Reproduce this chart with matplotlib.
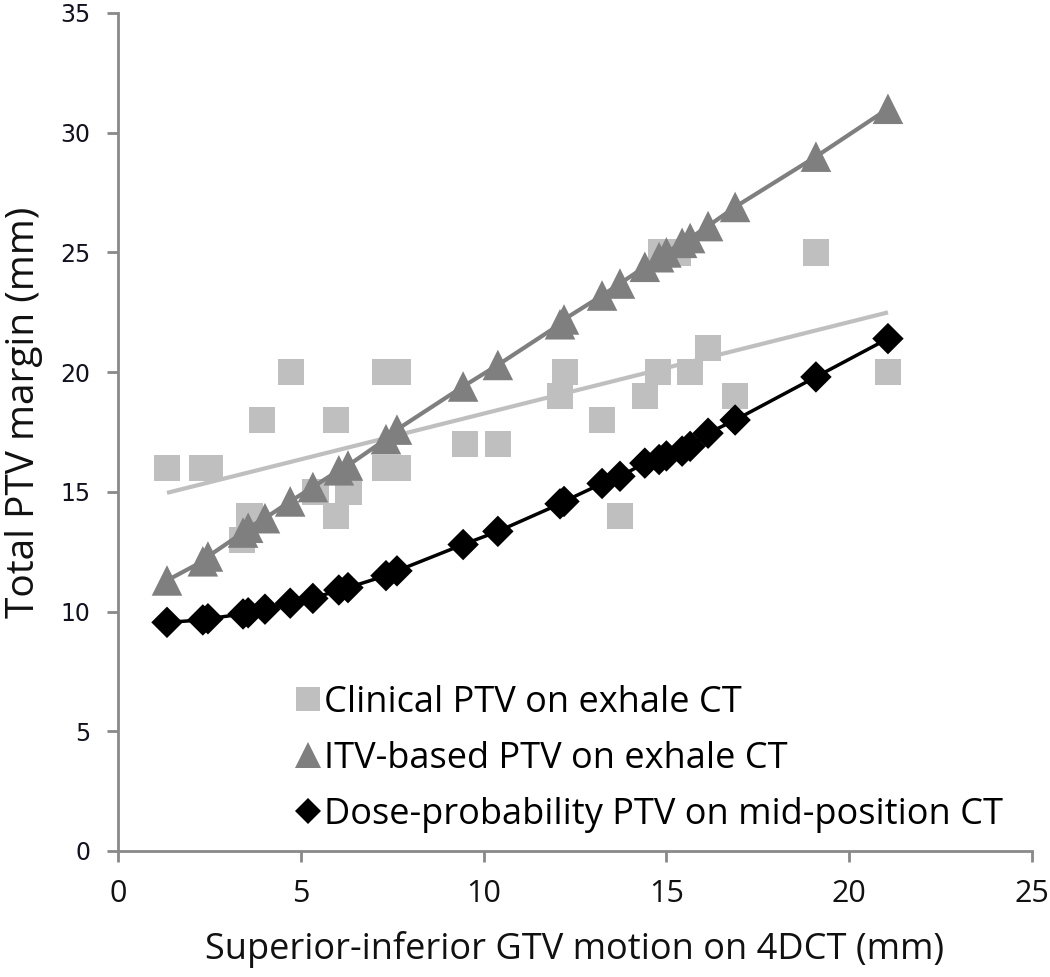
import numpy as np
import matplotlib
matplotlib.use("Agg")
import matplotlib.pyplot as plt
from matplotlib.lines import Line2D

# ---- data ----
clin_x = [1.34, 2.3, 2.5, 3.4, 3.6, 3.94, 4.73, 5.4, 5.96, 5.96, 6.3, 7.3, 7.65, 7.3, 7.65,
          9.49, 10.39, 12.09, 12.23, 13.24, 13.73, 14.41, 14.77, 14.85, 15.3, 15.65, 16.14,
          16.88, 19.09, 21.06]
clin_y = [16, 16, 16, 13, 14, 18, 20, 15, 18, 14, 15, 20, 20, 16, 16,
          17, 17, 19, 20, 18, 14, 19, 20, 25, 25, 20, 21,
          19, 25, 20]

motion_x = [1.34, 2.32, 2.46, 3.42, 3.56, 4.02, 4.71, 5.33, 6.04, 6.29, 7.33, 7.63, 9.44,
            10.39, 12.09, 12.2, 13.24, 13.73, 14.41, 14.8, 15.0, 15.43, 15.65, 16.14, 16.88,
            19.09, 21.06]
itv_y = [11.3, 12.1, 12.3, 13.3, 13.5, 13.9, 14.6, 15.2, 15.9, 16.1, 17.2, 17.6, 19.4,
         20.3, 22.0, 22.2, 23.2, 23.7, 24.4, 24.8, 25.0, 25.4, 25.6, 26.1, 26.9,
         29.0, 31.0]
dose_y = [9.55, 9.65, 9.7, 9.9, 9.95, 10.1, 10.35, 10.55, 10.9, 11.0, 11.5, 11.7, 12.8,
          13.35, 14.5, 14.6, 15.35, 15.65, 16.2, 16.35, 16.5, 16.7, 16.9, 17.45, 18.0,
          19.8, 21.4]

labels = ["Clinical PTV on exhale CT",
          "ITV-based PTV on exhale CT",
          "Dose-probability PTV on mid-position CT"]
xticks = [0, 5, 10, 15, 20, 25]
yticks = [0, 5, 10, 15, 20, 25, 30, 35]

c_clin = "#BFBFBF"
c_itv = "#7F7F7F"
c_dose = "#000000"
axis_col = "#898989"
narrow = ["Open Sans", "DejaVu Sans"]

fig = plt.figure(figsize=(10.5, 9.77), dpi=100)
ax = fig.add_axes([118/1050, 1-851/977, (1032-118)/1050, (851-13)/977])

# clinical points and linear trend
ax.scatter(clin_x, clin_y, marker="s", s=19**2, color=c_clin, edgecolors="none", zorder=2)
coef = np.polyfit(clin_x, clin_y, 1)
tx = np.array([min(clin_x), max(clin_x)])
ax.plot(tx, np.polyval(coef, tx), color=c_clin, lw=3, zorder=3, solid_capstyle="butt")

# ITV
ax.plot(motion_x, itv_y, color=c_itv, lw=3, zorder=4)
ax.scatter(motion_x, itv_y, marker="^", s=22**2, color=c_itv, edgecolors="none", zorder=4)

# dose-probability
ax.plot(motion_x, dose_y, color=c_dose, lw=2.5, zorder=5)
ax.scatter(motion_x, dose_y, marker="D", s=16**2, color=c_dose, edgecolors="none", zorder=5)

ax.set_xlim(0, 25)
ax.set_ylim(0, 35)
ax.set_xticks(xticks)
ax.set_yticks(yticks)
for s in ["top", "right"]:
    ax.spines[s].set_visible(False)
for s in ["left", "bottom"]:
    ax.spines[s].set_color(axis_col)
    ax.spines[s].set_linewidth(2)
ax.tick_params(axis="both", direction="out", length=8, width=2, color=axis_col)
ax.tick_params(axis="x", pad=12)
ax.tick_params(axis="y", pad=12)
for t in ax.get_xticklabels():
    t.set_fontfamily(narrow)
    t.set_fontsize(22)
    t.set_color("#111111")
for t in ax.get_yticklabels():
    t.set_fontfamily("DejaVu Sans")
    t.set_fontsize(17)
    t.set_color("#111122")

ax.set_xlabel("Superior-inferior GTV motion on 4DCT (mm)", fontsize=26,
              family=narrow, labelpad=16, color="#111111")
ax.set_ylabel("Total PTV margin (mm)", fontsize=28, family=narrow, color="#111111")
ax.yaxis.set_label_coords(-0.082, 0.524)

handles = [
    Line2D([], [], ls="none", marker="s", ms=17, color=c_clin, markeredgewidth=0),
    Line2D([], [], ls="none", marker="^", ms=19, color=c_itv, markeredgewidth=0),
    Line2D([], [], ls="none", marker="D", ms=13, color=c_dose, markeredgewidth=0),
]
leg = ax.legend(handles, labels, loc="lower left", bbox_to_anchor=(0.176, 0.0),
                frameon=False, prop={"family": narrow, "size": 26},
                handlelength=0.6, handletextpad=0.15, labelspacing=0.56,
                borderaxespad=0.1)

fig.savefig("out.png", dpi=100)
